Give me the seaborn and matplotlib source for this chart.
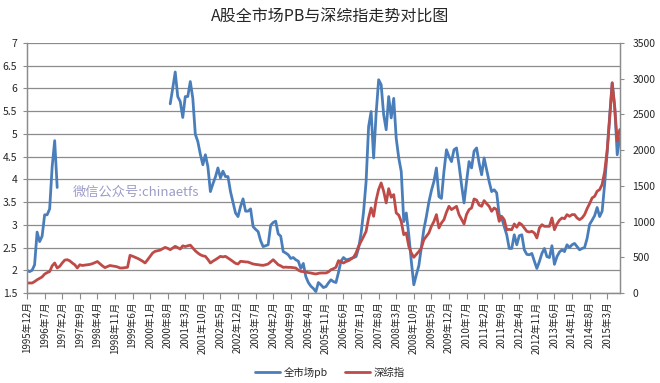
import matplotlib
matplotlib.use("Agg")
import matplotlib.pyplot as plt
from matplotlib.lines import Line2D
from matplotlib.ticker import FuncFormatter, MultipleLocator
import numpy as np
import pandas as pd
import seaborn as sns

sns.set_style("white")
plt.rcParams["font.family"] = ["Noto Sans CJK SC", "DejaVu Sans"]

# monthly data, 1995-12 .. 2015-08
start_month = "1995-12"

# 深综指 (right axis)
szzs = [
    140, 140, 140, 160, 185, 205, 225, 265, 285, 300,
    380, 420, 350, 373, 420, 460, 466, 450, 420, 395,
    350, 395, 385, 390, 395, 400, 410, 425, 440, 410,
    380, 355, 370, 385, 378, 373, 365, 350, 350, 355,
    360, 527, 515, 500, 485, 466, 445, 420, 465, 513,
    560, 583, 592, 600, 620, 638, 625, 606, 630, 653,
    635, 615, 660, 650, 660, 670, 630, 590, 560, 535,
    520, 513, 470, 420, 445, 466, 490, 513, 505, 513,
    490, 466, 440, 415, 406, 443, 440, 435, 433, 420,
    406, 400, 396, 390, 387, 395, 406, 435, 466, 430,
    396, 380, 359, 362, 359, 359, 355, 350, 320, 303,
    298, 294, 285, 280, 272, 266, 275, 280, 280, 280,
    295, 326, 340, 359, 452, 435, 420, 440, 452, 475,
    499, 560, 653, 720, 790, 863, 1050, 1190, 1073, 1300,
    1450, 1540, 1424, 1260, 1460, 1340, 1377, 1120, 1090, 1000,
    816, 840, 653, 560, 500, 540, 580, 630, 746, 793,
    840, 933, 1000, 1097, 910, 980, 1026, 1130, 1213, 1167,
    1190, 1213, 1097, 1030, 966, 1100, 1167, 1190, 1316, 1300,
    1230, 1213, 1293, 1250, 1213, 1143, 1190, 1167, 1003, 1073,
    1026, 886, 890, 886, 966, 920, 980, 956, 910, 863,
    853, 863, 840, 770, 910, 956, 933, 933, 933, 1050,
    886, 966, 1020, 1050, 1040, 1097, 1073, 1097, 1097, 1050,
    1026, 1050, 1097, 1180, 1250, 1330, 1353, 1424, 1447, 1520,
    1700, 2000, 2450, 2941, 2591, 2124, 2287,
]

# 全市场pb (left axis), first stretch 1995-12 .. 1996-12
pb_early = [2.0, 1.97, 2.0, 2.12, 2.84, 2.63, 2.75, 3.22, 3.22, 3.35, 4.28, 4.85, 3.82]
pb_gap_months = 44  # no pb data 1997-01 .. 2000-08
# second stretch 2000-09 .. 2015-08
pb_late = [
    5.66, 6.0, 6.36, 5.82, 5.71, 5.36, 5.82, 5.82, 6.15, 5.78,
    4.99, 4.83, 4.55, 4.32, 4.54, 4.28, 3.73, 3.9, 4.05, 4.25,
    4.03, 4.18, 4.06, 4.06, 3.73, 3.5, 3.26, 3.18, 3.4, 3.57,
    3.3, 3.3, 3.35, 2.96, 2.9, 2.85, 2.65, 2.52, 2.54, 2.56,
    2.99, 3.05, 3.08, 2.8, 2.75, 2.41, 2.38, 2.34, 2.26, 2.28,
    2.23, 2.2, 2.04, 2.15, 1.86, 1.73, 1.65, 1.6, 1.53, 1.73,
    1.68, 1.62, 1.64, 1.72, 1.79, 1.75, 1.73, 1.95, 2.2, 2.28,
    2.23, 2.24, 2.26, 2.28, 2.3, 2.48, 2.81, 3.29, 3.95, 5.16,
    5.49, 4.47, 5.45, 6.19, 6.08, 5.42, 5.09, 5.82, 5.35, 5.78,
    4.9, 4.47, 4.17, 3.07, 3.26, 2.78, 2.2, 1.68, 1.9, 2.1,
    2.5, 2.9, 3.18, 3.5, 3.75, 3.95, 4.25, 3.62, 3.58, 4.17,
    4.65, 4.5, 4.39, 4.65, 4.69, 4.32, 3.88, 3.48, 3.95, 4.39,
    4.25, 4.62, 4.69, 4.36, 4.1, 4.47, 4.21, 3.95, 3.73, 3.77,
    3.7, 3.22, 3.15, 2.96, 2.78, 2.48, 2.48, 2.78, 2.56, 2.76,
    2.78, 2.45, 2.35, 2.34, 2.37, 2.2, 2.04, 2.19, 2.37, 2.48,
    2.3, 2.28, 2.54, 2.13, 2.3, 2.4, 2.45, 2.41, 2.56, 2.5,
    2.56, 2.59, 2.52, 2.45, 2.48, 2.5, 2.7, 3.01, 3.1, 3.2,
    3.38, 3.18, 3.3, 3.9, 4.6, 5.4, 6.12, 5.6, 4.54, 4.91,
]

pb = pb_early + [np.nan] * pb_gap_months + pb_late
months = pd.period_range(start_month, periods=len(szzs), freq="M")
df = pd.DataFrame({"i": np.arange(len(szzs)), "pb": pb, "szzs": szzs})
df["seg"] = df["pb"].isna().cumsum()

blue = "#4a7ebb"
red = "#be4b48"
grid_c = "#8c8c8c"

fig = plt.figure(figsize=(6.6, 3.83), dpi=100)
ax = fig.add_axes([0.041, 0.235, 0.898, 0.653])
ax2 = ax.twinx()

# pb in separate segments so the gap stays open
sns.lineplot(data=df.dropna(subset=["pb"]), x="i", y="pb", units="seg", estimator=None,
             color=blue, lw=2.0, ax=ax, legend=False)
sns.lineplot(data=df, x="i", y="szzs", color=red, lw=2.0, ax=ax2, legend=False)

ax.set_xlim(0, len(szzs) - 1)
ax.set_ylim(1.5, 7)
ax2.set_ylim(0, 3500)
ax.yaxis.set_major_locator(MultipleLocator(0.5))
ax.yaxis.set_major_formatter(FuncFormatter(lambda v, p: f"{v:g}"))
ax2.yaxis.set_major_locator(MultipleLocator(500))

tick_pos = np.arange(0, len(szzs), 7)
ax.set_xticks(tick_pos)
ax.set_xticklabels([f"{months[k].year}年{months[k].month}月" for k in tick_pos],
                   rotation=90, fontsize=7)

ax.grid(axis="y", color=grid_c, lw=0.9)
ax.set_axisbelow(True)
ax2.grid(False)
for a in (ax, ax2):
    a.set_xlabel("")
    a.set_ylabel("")
    a.spines["top"].set_visible(False)
    for s in ("left", "right", "bottom"):
        a.spines[s].set_color(grid_c)
        a.spines[s].set_linewidth(0.9)
ax.tick_params(axis="y", labelsize=7.5, length=3, color=grid_c, left=True, pad=4)
ax.tick_params(axis="x", length=4, color=grid_c, bottom=True, pad=2)
ax2.tick_params(axis="y", labelsize=7.5, length=3, color=grid_c, right=True, pad=6)

ax.text(0.184, 0.404, "微信公众号:chinaetfs", transform=ax.transAxes,
        ha="center", va="center", fontsize=9.5, color="#9c9cc9")

fig.text(0.5, 0.955, "A股全市场PB与深综指走势对比图", ha="center", va="center",
         fontsize=11.5)

handles = [Line2D([], [], color=blue, lw=2.0), Line2D([], [], color=red, lw=2.0)]
fig.legend(handles, ["全市场pb", "深综指"], loc="center", bbox_to_anchor=(0.5, 0.028),
           ncol=2, frameon=False, fontsize=7.5, handlelength=2.4, columnspacing=1.6,
           handletextpad=0.4)

fig.savefig("out.png", dpi=100)
